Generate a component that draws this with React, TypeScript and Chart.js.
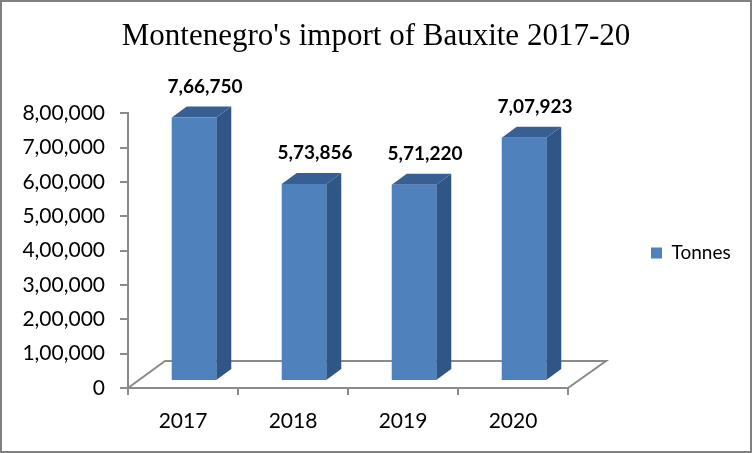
import React, { useEffect, useRef } from "react";
import { Chart, registerables } from "chart.js";

Chart.register(...registerables);

const categories = ["2017", "2018", "2019", "2020"];
const tonnes = [766750, 573856, 571220, 707923];
const seriesName = "Tonnes";
const titleText = "Montenegro's import of Bauxite 2017-20";
const yMax = 800000;
const yStep = 100000;

const fmt = (v: number) => Number(v).toLocaleString("en-IN");

const SHIFT_X = 11;
const SHIFT_Y = -7;
const DEPTH_X = 15;
const DEPTH_Y = 11;
const AXIS = "#8a8a8a";
const LEGEND_WIDTH = 184;
const LEGEND_PAD = 6;

const bars3d = {
  id: "bars3d",
  beforeLayout(chart: any) {
    const legend = chart.legend;
    if (legend && !legend.__patched) {
      const orig = legend.fit;
      legend.fit = function () {
        orig.call(this);
        this.width = LEGEND_WIDTH;
      };
      legend.__patched = true;
    }
  },
  afterLayout(chart: any) {
    const legend = chart.legend;
    const h = legend.bottom - legend.top;
    legend.left = 651 - LEGEND_PAD;
    legend.right = legend.left + LEGEND_WIDTH;
    legend.top = 253 - h / 2;
    legend.bottom = legend.top + h;
  },
  beforeDatasetsDraw(chart: any) {
    const { ctx } = chart;
    const x0 = chart.scales.x.left;
    const x1 = chart.scales.x.right;
    const y0 = chart.scales.y.getPixelForValue(0);
    ctx.save();
    ctx.strokeStyle = AXIS;
    ctx.lineWidth = 2;
    ctx.beginPath();
    ctx.moveTo(x0, y0);
    ctx.lineTo(x0 + 37, y0 - 27);
    ctx.lineTo(x1 + 38, y0 - 27);
    ctx.lineTo(x1, y0);
    ctx.stroke();
    ctx.restore();
    ctx.save();
    ctx.translate(SHIFT_X, SHIFT_Y);
    const meta = chart.getDatasetMeta(0);
    meta.data.forEach((b: any) => {
      const l = b.x - b.width / 2;
      const r = b.x + b.width / 2;
      const t = b.y;
      const bt = b.base;
      ctx.fillStyle = "#2f5687";
      ctx.beginPath();
      ctx.moveTo(r, t);
      ctx.lineTo(r + DEPTH_X, t - DEPTH_Y);
      ctx.lineTo(r + DEPTH_X, bt - DEPTH_Y);
      ctx.lineTo(r, bt);
      ctx.closePath();
      ctx.fill();
      ctx.fillStyle = "#385f94";
      ctx.beginPath();
      ctx.moveTo(l, t);
      ctx.lineTo(l + DEPTH_X, t - DEPTH_Y);
      ctx.lineTo(r + DEPTH_X, t - DEPTH_Y);
      ctx.lineTo(r, t);
      ctx.closePath();
      ctx.fill();
    });
  },
  afterDatasetsDraw(chart: any) {
    const { ctx } = chart;
    ctx.restore();
    const meta = chart.getDatasetMeta(0);
    ctx.save();
    ctx.fillStyle = "#000";
    ctx.font = "bold 19px Lato";
    ctx.textAlign = "center";
    ctx.textBaseline = "middle";
    meta.data.forEach((b: any, i: number) => {
      ctx.fillText(fmt(tonnes[i]), b.x + 22, b.y - 38);
    });
    ctx.restore();
  },
  afterDraw(chart: any) {
    const { ctx, width, height } = chart;
    ctx.save();
    ctx.strokeStyle = "#808080";
    ctx.lineWidth = 2;
    ctx.strokeRect(1, 1, width - 2, height - 2);
    ctx.restore();
  },
};

export default function App() {
  const ref = useRef<HTMLCanvasElement>(null);
  useEffect(() => {
    const chart = new Chart(ref.current!, {
      type: "bar",
      data: {
        labels: categories,
        datasets: [
          {
            label: seriesName,
            data: tonnes,
            backgroundColor: "#4f81bd",
            borderWidth: 0,
            barPercentage: 1,
            categoryPercentage: 0.405,
          },
        ],
      },
      options: {
        responsive: false,
        animation: false,
        devicePixelRatio: 1,
        layout: { padding: { left: 0, right: 0, top: 18, bottom: 8 } },
        plugins: {
          tooltip: { enabled: false },
          title: {
            display: true,
            text: titleText,
            color: "#000",
            font: { family: "Liberation Serif", size: 31, weight: "normal" },
            padding: { top: 0, bottom: 58 },
          },
          legend: {
            display: true,
            position: "right",
            labels: {
              boxWidth: 11,
              boxHeight: 11,
              color: "#000",
              font: { family: "Lato", size: 19 },
              padding: LEGEND_PAD,
            },
          },
        },
        scales: {
          x: {
            grid: { drawOnChartArea: false, color: AXIS, lineWidth: 2, tickLength: 7, offset: true },
            border: { color: AXIS, width: 2 },
            ticks: { color: "#000", font: { family: "Lato", size: 21 }, padding: 14 },
            afterFit(s: any) {
              s.height = 57;
            },
          },
          y: {
            min: 0,
            max: yMax,
            grid: { drawOnChartArea: false, color: AXIS, lineWidth: 2, tickLength: 8 },
            border: { color: AXIS, width: 2 },
            ticks: {
              stepSize: yStep,
              color: "#000",
              font: { family: "Lato", size: 21 },
              padding: 15,
              callback: (v: any) => fmt(v),
            },
            afterFit(s: any) {
              s.width = 128;
            },
          },
        },
      },
      plugins: [bars3d],
    } as any);
    return () => chart.destroy();
  }, []);
  return (
    <canvas
      ref={ref}
      width={752}
      height={453}
      style={{ position: "fixed", left: 0, top: 0, display: "block" }}
    />
  );
}
